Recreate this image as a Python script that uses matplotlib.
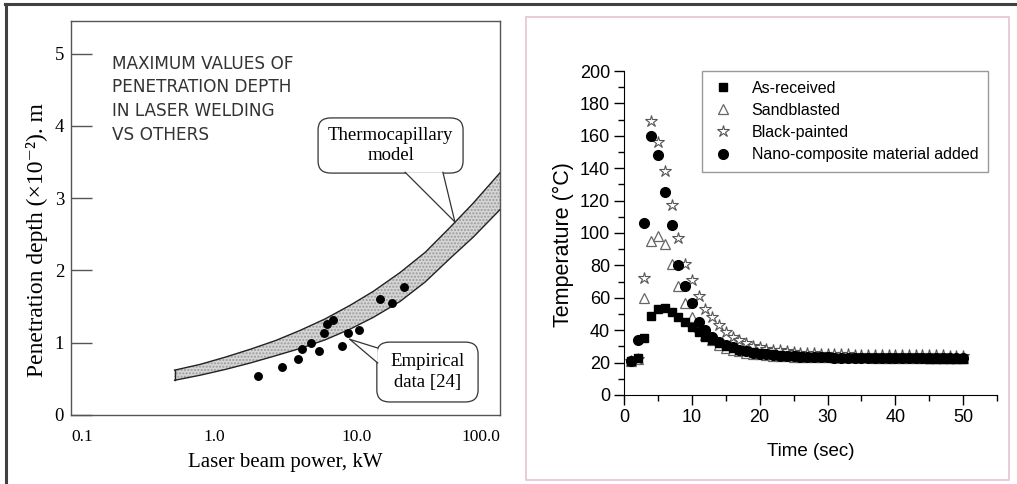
import matplotlib
matplotlib.use("Agg")
import matplotlib.pyplot as plt
from matplotlib.patches import FancyBboxPatch, Polygon, Rectangle
from matplotlib.lines import Line2D

# ---- left panel data: penetration depth vs laser power ----
band_power = [0.53, 0.8, 1.2, 1.8, 2.7, 4.0, 6.0, 9.0, 13.0, 20.0,
              30.0, 45.0, 65.0, 100.0]
band_upper = [0.62, 0.70, 0.80, 0.91, 1.03, 1.17, 1.33, 1.52, 1.71, 1.97,
              2.25, 2.60, 2.93, 3.35]
band_lower = [0.48, 0.55, 0.63, 0.72, 0.82, 0.92, 1.04, 1.19, 1.35, 1.57,
              1.84, 2.17, 2.46, 2.84]

emp_power = [2.04, 2.97, 3.89, 4.10, 4.74, 5.45, 5.90, 6.14, 6.76,
             7.81, 8.61, 10.3, 14.5, 17.6, 21.4]
emp_depth = [0.54, 0.66, 0.78, 0.91, 0.99, 0.89, 1.14, 1.26, 1.32,
             0.96, 1.13, 1.18, 1.61, 1.55, 1.77]

# ---- right panel data: temperature vs time ----
time_s = list(range(1, 51))
as_received = [21, 23, 35, 49, 53, 54, 51, 48, 45, 42,
               39, 36, 34, 32, 30, 29, 28, 27, 26.5, 26,
               25.5, 25, 24.6, 24.3, 24, 23.8, 23.6, 23.4, 23.3, 23.2,
               23.1, 23, 23, 22.9, 22.9, 22.8, 22.8, 22.7, 22.7, 22.7,
               22.6, 22.6, 22.6, 22.6, 22.5, 22.5, 22.5, 22.5, 22.5, 22.5]
sandblasted = [21, 22, 60, 95, 98, 93, 81, 67, 57, 48,
               42, 37, 34, 31, 29, 28, 27, 26, 25.5, 25,
               24.6, 24.3, 24, 23.8, 23.7, 23.6, 23.5, 23.4, 23.4, 23.3,
               23.3, 23.3, 23.2, 23.2, 23.2, 23.2, 23.1, 23.1, 23.1, 23.1,
               23.1, 23.1, 23, 23, 23, 23, 23, 23, 23, 23]
black_painted = [21, 22, 72, 169, 156, 138, 117, 97, 81, 71,
                 61, 53, 48, 43, 39, 36, 34, 32, 30.5, 29.5,
                 28.5, 28, 27.5, 27, 26.5, 26.2, 26, 25.7, 25.5, 25.3,
                 25.2, 25, 25, 24.9, 24.8, 24.8, 24.7, 24.7, 24.6, 24.6,
                 24.5, 24.5, 24.5, 24.4, 24.4, 24.4, 24.4, 24.3, 24.3, 24.3]
nano_composite = [21, 34, 106, 160, 148, 125, 105, 80, 67, 57,
                  45, 40, 36, 33, 31, 29.5, 28, 27, 26, 25.5,
                  25, 24.6, 24.3, 24, 23.8, 23.6, 23.5, 23.4, 23.3, 23.2,
                  23.1, 23.1, 23, 23, 22.9, 22.9, 22.9, 22.8, 22.8, 22.8,
                  22.8, 22.8, 22.8, 22.8, 22.8, 22.8, 22.8, 22.8, 22.8, 22.8]

serif = ['Liberation Serif', 'DejaVu Serif']
sans = ['Liberation Sans', 'DejaVu Sans']

fig = plt.figure(figsize=(10.17, 4.84), dpi=100)

# outer frame (top and left edges) and pink frame around right panel
fig.add_artist(Line2D([0.005, 1.0], [0.992, 0.992], color='#404040', lw=2.2))
fig.add_artist(Line2D([0.006, 0.006], [0.0, 0.992], color='#404040', lw=2.2))
fig.add_artist(Rectangle((0.517, 0.008), 0.475, 0.957, fill=False,
                         edgecolor='#e6c3cf', lw=1.2))

# ================= left panel =================
ax1 = fig.add_axes([0.0698, 0.1426, 0.4218, 0.8140])
ax1.set_xscale('log')
ax1.set_xlim(0.1, 100)
ax1.set_ylim(0, 5.45)

ax1.fill_between(band_power, band_lower, band_upper, facecolor='#d6d6d6',
                 edgecolor='#9a9a9a', hatch='.....', linewidth=0, zorder=2)
ax1.plot(band_power, band_upper, color='#222222', lw=1.0, zorder=3)
ax1.plot(band_power, band_lower, color='#222222', lw=1.0, zorder=3)
ax1.plot([band_power[0], band_power[0]], [band_lower[0], band_upper[0]],
         color='#222222', lw=1.0, zorder=3)
ax1.plot(emp_power, emp_depth, 'o', color='black', markersize=5.4, zorder=4)

ax1.set_xticks([0.1, 1, 10, 100])
ax1.set_xticklabels(['0.1', '1.0', '10.0', '100.0'])
ax1.xaxis.set_minor_locator(matplotlib.ticker.NullLocator())
ax1.set_yticks([0, 1, 2, 3, 4, 5])
ax1.tick_params(axis='x', length=0, pad=10, labelsize=12.5)
ax1.tick_params(axis='y', direction='in', length=15, width=1, pad=5,
                labelsize=13.5, color='#555555')
for lab in ax1.get_xticklabels() + ax1.get_yticklabels():
    lab.set_family(serif)
ax1.get_xticklabels()[0].set_horizontalalignment('left')
ax1.get_xticklabels()[-1].set_horizontalalignment('right')
for sp in ax1.spines.values():
    sp.set_color('#555555')
    sp.set_linewidth(1.0)

ax1.set_xlabel('Laser beam power, kW', family=serif, fontsize=15, labelpad=6)
ax1.set_ylabel('Penetration depth (×10⁻²). m', family=serif, fontsize=17)
ax1.yaxis.set_label_coords(-0.054, 0.444)

ax1.text(0.096, 0.914, 'MAXIMUM VALUES OF\nPENETRATION DEPTH\nIN LASER WELDING\nVS OTHERS',
         transform=ax1.transAxes, ha='left', va='top', fontsize=12.2,
         family='DejaVu Sans', color='#333333', linespacing=1.40)


def callout(ax, box, base, tip, text):
    x0, y0, x1, y1 = box
    ax.add_patch(FancyBboxPatch((x0, y0), x1 - x0, y1 - y0,
                                boxstyle='round,pad=0,rounding_size=0.03',
                                transform=ax.transAxes, facecolor='white',
                                edgecolor='#333333', lw=0.9, zorder=5))
    ax.add_patch(Polygon([base[0], base[1], tip], closed=True,
                         transform=ax.transAxes, facecolor='white',
                         edgecolor='none', zorder=6))
    for b in base:
        ax.add_line(Line2D([b[0], tip[0]], [b[1], tip[1]], color='#333333',
                           lw=0.9, transform=ax.transAxes, zorder=7))
    ax.text((x0 + x1) / 2, (y0 + y1) / 2, text, transform=ax.transAxes,
            ha='center', va='center', family=serif, fontsize=13.5,
            linespacing=1.25, zorder=8)


callout(ax1, (0.576, 0.614, 0.914, 0.754),
        [(0.779, 0.616), (0.867, 0.616)], (0.895, 0.490),
        'Thermocapillary\nmodel')
callout(ax1, (0.713, 0.033, 0.949, 0.185),
        [(0.715, 0.170), (0.715, 0.132)], (0.650, 0.192),
        'Empirical\ndata [24]')

# ================= right panel =================
ax2 = fig.add_axes([0.6136, 0.1839, 0.3668, 0.6694])
ax2.plot(time_s, sandblasted, '^', markersize=7.5, markerfacecolor='white',
         markeredgecolor='#666666', markeredgewidth=0.9, label='Sandblasted',
         linestyle='none')
ax2.plot(time_s, black_painted, '*', markersize=9, markerfacecolor='white',
         markeredgecolor='#555555', markeredgewidth=0.8, label='Black-painted',
         linestyle='none')
ax2.plot(time_s, nano_composite, 'o', markersize=7, color='black',
         label='Nano-composite material added', linestyle='none')
ax2.plot(time_s, as_received, 's', markersize=6.3, color='black',
         label='As-received', linestyle='none')

ax2.set_xlim(0, 55)
ax2.set_ylim(0, 200)
ax2.set_xticks([0, 10, 20, 30, 40, 50])
ax2.set_xticks([5, 15, 25, 35, 45, 55], minor=True)
ax2.set_yticks(range(0, 201, 20))
ax2.set_yticks(range(10, 200, 20), minor=True)
ax2.spines['top'].set_visible(False)
ax2.spines['right'].set_visible(False)
ax2.tick_params(which='major', direction='out', length=7, width=1,
                labelsize=13, pad=3)
ax2.tick_params(which='minor', direction='out', length=4, width=1)
for lab in ax2.get_xticklabels() + ax2.get_yticklabels():
    lab.set_family(sans)
ax2.set_xlabel('Time (sec)', family=sans, fontsize=13.5, labelpad=12)
ax2.set_ylabel('Temperature (°C)', family=sans, fontsize=15.5)
ax2.yaxis.set_label_coords(-0.135, 0.463)

handles, labels = ax2.get_legend_handles_labels()
order = [3, 0, 1, 2]
leg = ax2.legend([handles[i] for i in order], [labels[i] for i in order],
                 loc='upper left', bbox_to_anchor=(0.209, 1.0),
                 borderaxespad=0, fancybox=False, edgecolor='#999999',
                 framealpha=1, prop={'family': sans, 'size': 11.5},
                 handletextpad=1.1, borderpad=0.6, labelspacing=0.45,
                 handlelength=1.4)
leg.get_frame().set_linewidth(1.0)

fig.savefig('out.png', dpi=100)
